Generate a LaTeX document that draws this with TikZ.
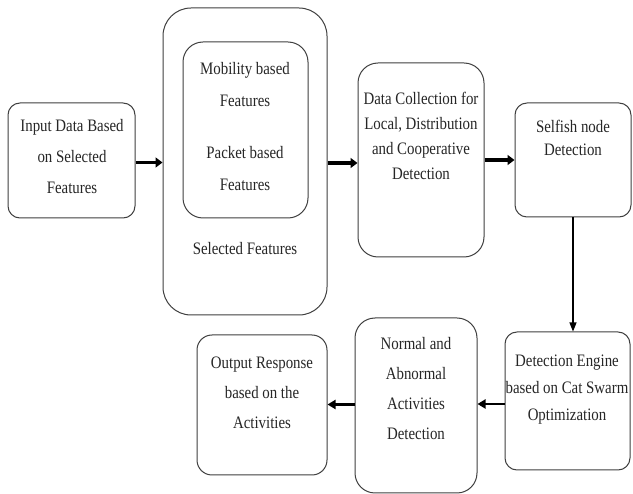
\documentclass[tikz,border=0pt]{standalone}
\usepackage{fontspec}
\setmainfont[FakeStretch=0.85]{Liberation Serif}
\usetikzlibrary{arrows.meta}
\begin{document}
\begin{tikzpicture}[x=1pt,y=-1pt,
  box/.style={draw=black!75,line width=1pt,rounded corners=#1,inner sep=0pt},
  box/.default=12pt,
  txt/.style={align=center,font=\fontsize{17.5}{#1}\selectfont,inner sep=0pt,text=black!85},
  txt/.default=28,
  thick arrow/.style={line width=3.8pt,-{Triangle[length=7pt,width=10pt]}},
  mid arrow/.style={line width=2.4pt,-{Triangle[length=8pt,width=9pt]}},
  thin arrow/.style={line width=1.1pt,-{Triangle[length=9pt,width=7pt]}}]
\useasboundingbox (0,0) rectangle (633,494);
\fill[white] (0,0) rectangle (633,494);
% boxes
\node[box, minimum width=127pt, minimum height=115pt] (in) at (71.5,160.5) {};
\node[box=28pt, minimum width=164pt, minimum height=307pt] (outer) at (245,161.5) {};
\node[box=20pt, minimum width=125pt, minimum height=176pt] (inner) at (245.5,130) {};
\node[box=20pt, minimum width=126pt, minimum height=194pt] (dc) at (421,160) {};
\node[box, minimum width=116pt, minimum height=114pt] (sf) at (573,160) {};
\node[box, minimum width=125pt, minimum height=138pt] (de) at (567.5,401) {};
\node[box=20pt, minimum width=122pt, minimum height=175pt] (na) at (416,405.5) {};
\node[box=15pt, minimum width=130pt, minimum height=140pt] (out) at (262,405) {};
% texts
\node[txt=31] (tin) at (72,157) {Input Data Based\\on Selected\\Features};
\node[txt=32] (tmob) at (245,85) {Mobility based\\Features};
\node[txt=32] (tpack) at (245,169) {Packet based\\Features};
\node[txt] (tsel) at (245,249) {Selected Features};
\node[txt=25] (tdc) at (421,136) {Data Collection for\\Local, Distribution\\and Cooperative\\Detection};
\node[txt=23] (tsf) at (573,138) {Selfish node\\Detection};
\node[txt=27] (tde) at (567,390) {Detection Engine\\based on Cat Swarm\\Optimization};
\node[txt=30] (tna) at (416,389) {Normal and\\Abnormal\\Activities\\Detection};
\node[txt=30] (tout) at (262,393) {Output Response\\based on the\\Activities};
% connectors
\draw[thick arrow] (in.east) ++(0,2) coordinate (a1) -- (a1 -| outer.west);
\draw[thick arrow] (outer.east) ++(0,1.5) coordinate (a2) -- (a2 -| dc.west);
\draw[thick arrow] (dc.east) -- (dc.east -| sf.west);
\draw[thin arrow] (sf.south) -- (sf.south |- de.north);
\draw[mid arrow] (de.west) ++(0,3) coordinate (a3) -- (a3 -| na.east);
\draw[mid arrow] (na.west) ++(0,-1) coordinate (a4) -- (a4 -| out.east);
\end{tikzpicture}
\end{document}
